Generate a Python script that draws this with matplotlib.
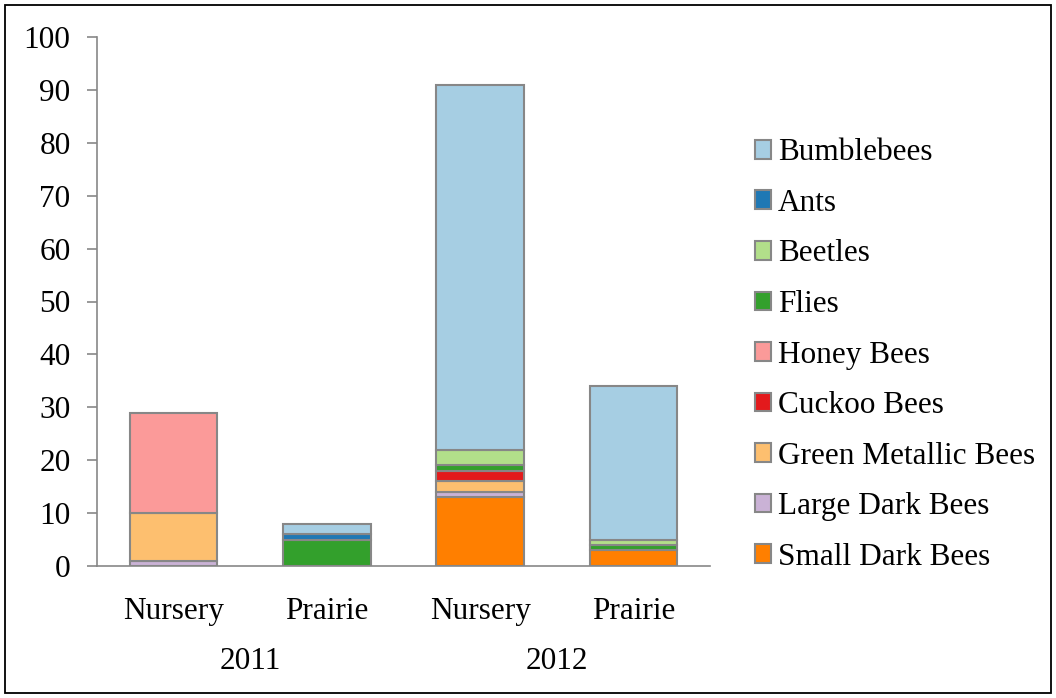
import numpy as np
import matplotlib
matplotlib.use("Agg")
from matplotlib import pyplot as plt
from matplotlib.patches import Rectangle

plt.rcParams['font.family'] = ['Liberation Serif', 'DejaVu Serif']

# data (bottom -> top stacking order)
sites = ["Nursery", "Prairie", "Nursery", "Prairie"]
years = ["2011", "2012"]
groups = ["Small Dark Bees", "Large Dark Bees", "Green Metallic Bees", "Cuckoo Bees",
          "Honey Bees", "Flies", "Beetles", "Ants", "Bumblebees"]
small_dark = [0, 0, 13, 3]
large_dark = [1, 0, 1, 0]
green_metallic = [9, 0, 2, 0]
cuckoo = [0, 0, 2, 0]
honey = [19, 0, 0, 0]
flies = [0, 5, 1, 1]
beetles = [0, 0, 3, 1]
ants = [0, 1, 0, 0]
bumblebees = [0, 2, 69, 29]
series = [small_dark, large_dark, green_metallic, cuckoo, honey, flies, beetles, ants, bumblebees]
colors = ["#ff7f00", "#cab2d6", "#fdbf6f", "#e31a1c", "#fb9a99",
          "#33a02c", "#b2df8a", "#1f78b4", "#a6cee3"]

edge = "#878787"
fs = 22.5

fig = plt.figure(figsize=(10.56, 6.98), dpi=100)
ax = fig.add_axes([97/1056, 1-566/698, (710-97)/1056, (566-37)/698])

x = np.arange(len(sites))
bottom = np.zeros(len(sites))
handles = []
for vals, c, name in zip(series, colors, groups):
    vals = np.array(vals, dtype=float)
    mask = vals > 0
    ax.bar(x[mask], vals[mask], 0.57, bottom=bottom[mask], color=c,
           edgecolor=edge, linewidth=1.5, zorder=3)
    handles.append(Rectangle((0, 0), 1, 1, facecolor=c, edgecolor=edge, linewidth=1.5))
    bottom += vals

ax.set_xlim(-0.5, 3.5)
ax.set_ylim(0, 100)
ax.set_yticks(np.arange(0, 101, 10))
ax.set_xticks(x)
ax.set_xticklabels(sites)
ax.tick_params(axis='y', direction='out', length=7, width=1.2, color=edge, labelsize=fs, pad=12)
ax.tick_params(axis='x', length=0, labelsize=fs, pad=22)
for s in ['top', 'right']:
    ax.spines[s].set_visible(False)
for s in ['left', 'bottom']:
    ax.spines[s].set_color(edge)
    ax.spines[s].set_linewidth(1.2)
ax.spines['bottom'].set_zorder(4)

# year labels under the category labels
for i, yr in enumerate(years):
    ax.text(2*i + 0.5, -18.0, yr, ha='center', va='center', fontsize=fs,
            transform=ax.transData)

leg = fig.legend(handles[::-1], groups[::-1], loc='center left',
                 bbox_to_anchor=(742/1056, 1-355/698), frameon=False, fontsize=fs,
                 handlelength=0.54, handleheight=0.54, handletextpad=0.22,
                 labelspacing=0.69, borderaxespad=0)

# outer frame
fig.patches.append(Rectangle((5/1056, 5/698), 1-10/1056, 1-10/698, transform=fig.transFigure,
                             fill=False, edgecolor='black', linewidth=1.3))

fig.savefig("out.png", dpi=100)
